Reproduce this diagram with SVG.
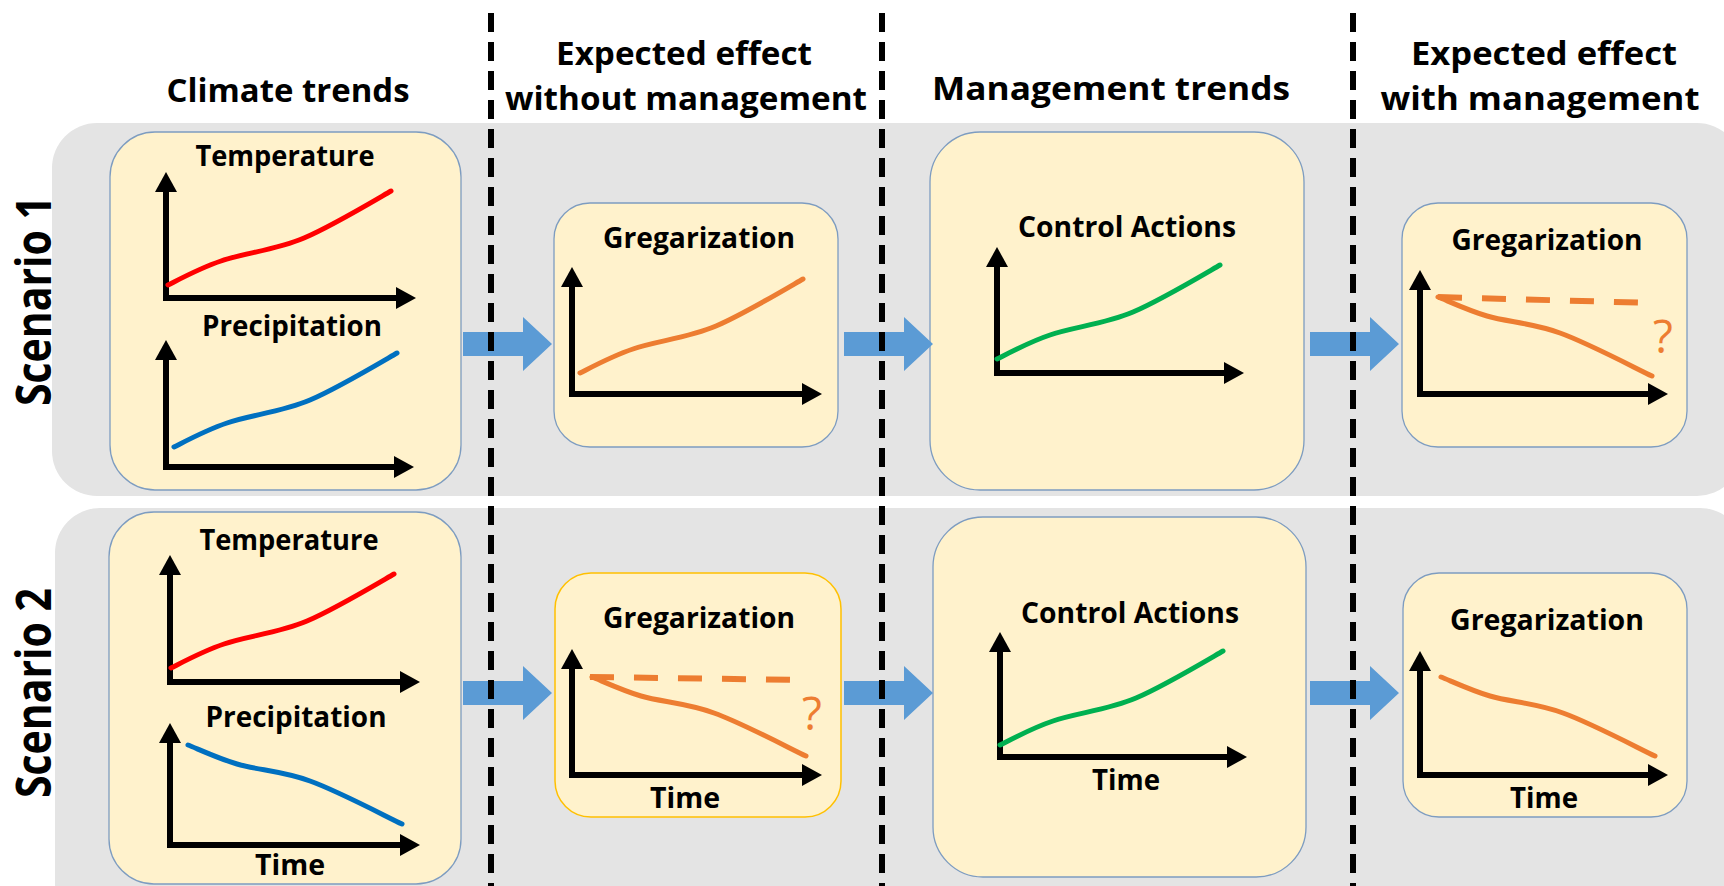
<svg xmlns="http://www.w3.org/2000/svg" width="1724" height="886" viewBox="0 0 1724 886">
  <style>
    .band { fill: #e4e4e4; }
    .node { fill: #fff2cc; stroke: #7d9cc0; stroke-width: 1.3; }
    .node-warn { fill: #fff2cc; stroke: #ffc000; stroke-width: 1.5; }
    .axis { fill: none; stroke: #000; stroke-width: 6; stroke-linejoin: miter; marker-start: url(#ah); marker-end: url(#ah); }
    .trend { fill: none; stroke-width: 5; stroke-linecap: round; stroke-linejoin: round; }
    .red { stroke: #ff0000; }
    .blue { stroke: #0070c0; }
    .green { stroke: #00b050; }
    .orange { stroke: #ed7d31; }
    .baseline { fill: none; stroke: #ed7d31; stroke-width: 6; stroke-dasharray: 24 20; }
    .flow { fill: #5b9bd5; }
    .divider { stroke: #000; stroke-width: 6; stroke-dasharray: 19 10; }
    .t { font-family: "Open Sans", "Liberation Sans", sans-serif; font-weight: 700; fill: #000; text-anchor: middle; }
    .hdr { font-size: 32px; }
    .lbl { font-size: 28px; }
    .scn { font-family: "Open Sans", "Liberation Sans", sans-serif; font-weight: 700; font-size: 48px; fill: #000; text-anchor: middle; }
    .q { font-family: "Open Sans", "Liberation Sans", sans-serif; font-weight: 400; font-size: 46px; fill: #ed7d31; text-anchor: middle; }
  </style>
  <defs>
    <marker id="ah" viewBox="0 -11 20 22" refX="1" refY="0" markerWidth="20" markerHeight="22" markerUnits="userSpaceOnUse" orient="auto-start-reverse">
      <path d="M0,-11 L20,0 L0,11 z" fill="#000"/>
    </marker>
    <!-- rising S-shaped trend, drawn from its start point -->
    <path id="rise" d="M0,0 C10,-5 32,-17 53,-24 C76,-32 108,-35 136,-47 C164,-59 209,-86 223,-94"/>
    <!-- falling trend, drawn from its start point -->
    <path id="fall" d="M0,0 C8,3 29,13 49,19 C69,25 95,26 122,36 C150,46 199,72 214,79"/>
    <!-- block arrow between stages -->
    <path id="step" d="M0,-12 H60 V-27 L89,0 L60,27 V12 H0 z"/>
  </defs>

  <rect width="1724" height="886" fill="#fff"/>

  <!-- scenario bands -->
  <rect class="band" x="52" y="123" width="1690" height="373" rx="45"/>
  <rect class="band" x="55" y="508" width="1690" height="420" rx="45"/>

  <!-- column headers -->
  <g id="headers">
    <text class="t hdr" x="288" y="102" textLength="243" lengthAdjust="spacingAndGlyphs">Climate trends</text>
    <text class="t hdr" x="684" y="65" textLength="256" lengthAdjust="spacingAndGlyphs">Expected effect</text>
    <text class="t hdr" x="686" y="110" textLength="362" lengthAdjust="spacingAndGlyphs">without management</text>
    <text class="t hdr" x="1111" y="100" textLength="358" lengthAdjust="spacingAndGlyphs">Management trends</text>
    <text class="t hdr" x="1544" y="65" textLength="266" lengthAdjust="spacingAndGlyphs">Expected effect</text>
    <text class="t hdr" x="1540" y="110" textLength="319" lengthAdjust="spacingAndGlyphs">with management</text>
  </g>

  <!-- row labels -->
  <text class="scn" transform="translate(51,301) rotate(-90)" textLength="210" lengthAdjust="spacingAndGlyphs">Scenario 1</text>
  <text class="scn" transform="translate(51,693) rotate(-90)" textLength="210" lengthAdjust="spacingAndGlyphs">Scenario 2</text>

  <!-- Scenario 1 -->
  <g id="climate-s1">
    <rect class="node" x="110" y="132" width="351" height="358" rx="45"/>
    <text class="t lbl" x="285" y="166" textLength="179" lengthAdjust="spacingAndGlyphs">Temperature</text>
    <path class="axis" d="M166,191 V298 H397"/>
    <use href="#rise" class="trend red" transform="translate(168,285)"/>
    <text class="t lbl" x="292" y="336" textLength="180" lengthAdjust="spacingAndGlyphs">Precipitation</text>
    <path class="axis" d="M166,359 V467 H395"/>
    <use href="#rise" class="trend blue" transform="translate(174,447)"/>
  </g>

  <g id="gregarization-unmanaged-s1">
    <rect class="node" x="554" y="203" width="284" height="244" rx="36"/>
    <text class="t lbl" x="699" y="248" textLength="192" lengthAdjust="spacingAndGlyphs">Gregarization</text>
    <path class="axis" d="M572,286 V394 H803"/>
    <use href="#rise" class="trend orange" transform="translate(580,373)"/>
  </g>

  <g id="control-s1">
    <rect class="node" x="930" y="132" width="374" height="358" rx="50"/>
    <text class="t lbl" x="1127" y="237" textLength="218" lengthAdjust="spacingAndGlyphs">Control Actions</text>
    <path class="axis" d="M997,266 V373 H1225"/>
    <use href="#rise" class="trend green" transform="translate(997,359)"/>
  </g>

  <g id="gregarization-managed-s1">
    <rect class="node" x="1402" y="203" width="285" height="244" rx="36"/>
    <text class="t lbl" x="1547" y="250" textLength="191" lengthAdjust="spacingAndGlyphs">Gregarization</text>
    <path class="axis" d="M1420,289 V394 H1649"/>
    <line class="baseline" x1="1438" y1="297" x2="1653" y2="303"/>
    <use href="#fall" class="trend orange" transform="translate(1438,297)"/>
    <text class="q" x="1663" y="353">?</text>
  </g>

  <!-- Scenario 2 -->
  <g id="climate-s2">
    <rect class="node" x="109" y="512" width="352" height="372" rx="45"/>
    <text class="t lbl" x="289" y="550" textLength="179" lengthAdjust="spacingAndGlyphs">Temperature</text>
    <path class="axis" d="M170,574 V682 H401"/>
    <use href="#rise" class="trend red" transform="translate(171,668)"/>
    <text class="t lbl" x="296" y="727" textLength="181" lengthAdjust="spacingAndGlyphs">Precipitation</text>
    <path class="axis" d="M170,742 V845 H401"/>
    <use href="#fall" class="trend blue" transform="translate(188,745)"/>
    <text class="t lbl" x="290" y="875" textLength="70" lengthAdjust="spacingAndGlyphs">Time</text>
  </g>

  <g id="gregarization-unmanaged-s2">
    <rect class="node-warn" x="555" y="573" width="286" height="244" rx="36"/>
    <text class="t lbl" x="699" y="628" textLength="192" lengthAdjust="spacingAndGlyphs">Gregarization</text>
    <path class="axis" d="M572,668 V775 H803"/>
    <line class="baseline" x1="590" y1="677" x2="807" y2="680"/>
    <use href="#fall" class="trend orange" transform="translate(592,677)"/>
    <text class="q" x="812" y="730">?</text>
    <text class="t lbl" x="685" y="808" textLength="70" lengthAdjust="spacingAndGlyphs">Time</text>
  </g>

  <g id="control-s2">
    <rect class="node" x="933" y="517" width="373" height="360" rx="50"/>
    <text class="t lbl" x="1130" y="623" textLength="218" lengthAdjust="spacingAndGlyphs">Control Actions</text>
    <path class="axis" d="M1000,651 V757 H1228"/>
    <use href="#rise" class="trend green" transform="translate(1000,745)"/>
    <text class="t lbl" x="1126" y="790" textLength="68" lengthAdjust="spacingAndGlyphs">Time</text>
  </g>

  <g id="gregarization-managed-s2">
    <rect class="node" x="1403" y="573" width="284" height="244" rx="36"/>
    <text class="t lbl" x="1547" y="630" textLength="194" lengthAdjust="spacingAndGlyphs">Gregarization</text>
    <path class="axis" d="M1420,670 V775 H1649"/>
    <use href="#fall" class="trend orange" transform="translate(1441,677)"/>
    <text class="t lbl" x="1544" y="808" textLength="68" lengthAdjust="spacingAndGlyphs">Time</text>
  </g>

  <!-- stage-to-stage arrows -->
  <g id="connectors">
    <use href="#step" class="flow" x="463" y="344"/>
    <use href="#step" class="flow" x="844" y="344"/>
    <use href="#step" class="flow" x="1310" y="344"/>
    <use href="#step" class="flow" x="463" y="693"/>
    <use href="#step" class="flow" x="844" y="693"/>
    <use href="#step" class="flow" x="1310" y="693"/>
  </g>

  <!-- column dividers -->
  <g id="dividers">
    <line class="divider" x1="491" y1="13" x2="491" y2="886"/>
    <line class="divider" x1="882" y1="13" x2="882" y2="886"/>
    <line class="divider" x1="1353" y1="13" x2="1353" y2="886"/>
  </g>
</svg>
